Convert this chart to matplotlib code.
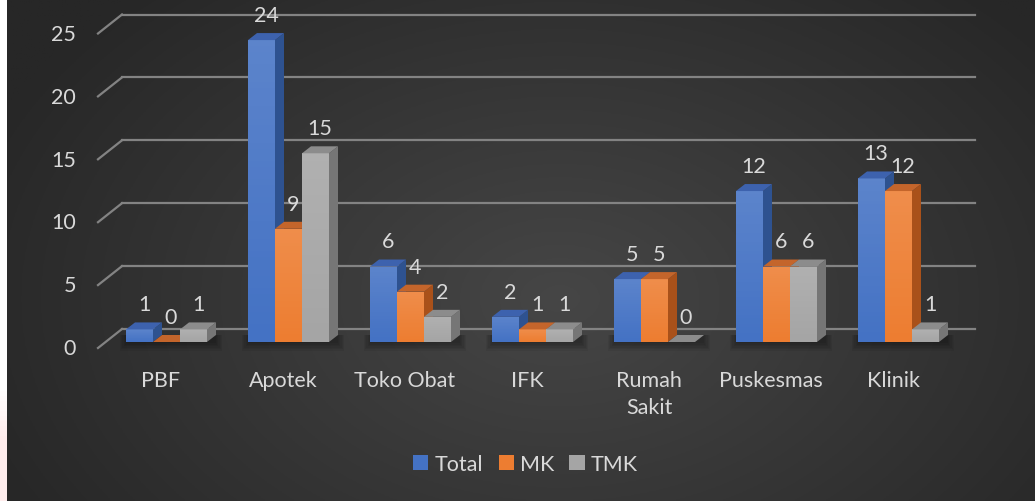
import numpy as np
import matplotlib.pyplot as plt
from matplotlib.patches import Polygon, Patch

# chart data
categories = ["PBF", "Apotek", "Toko Obat", "IFK", "Rumah\nSakit", "Puskesmas", "Klinik"]
series_names = ["Total", "MK", "TMK"]
total = [1, 24, 6, 2, 5, 12, 13]
mk = [0, 9, 4, 1, 5, 6, 12]
tmk = [1, 15, 2, 1, 0, 6, 1]
y_ticks = [0, 5, 10, 15, 20, 25]

front_col = ["#4472C4", "#ED7D31", "#A5A5A5"]
side_col = ["#2E5290", "#A9511A", "#767676"]
top_col = ["#3D62AE", "#C4652B", "#8C8C8C"]
txt_col = "#D9D9D9"
grid_col = "#838383"
fs = 15.5

plt.rcParams['font.family'] = ['Lato', 'DejaVu Sans']

W, H = 1035, 502
px_x, px_y = 122.0, 12.58      # pixels per category / per unit
x0, y0 = 166.5, 343.0          # pixel of (0, 0)
strip = 7                      # white strip on the left edge

fig = plt.figure(figsize=(W / 100, H / 100), dpi=100)
fig.patch.set_facecolor('white')
ax = fig.add_axes([0, 0, 1, 1])
xlim = (-x0 / px_x, (W - x0) / px_x)
ylim = (-(H - y0) / px_y, y0 / px_y)
ax.axis('off')

# left edge strip (white, faint pink at bottom)
sg = np.ones((100, 1, 3))
pink = np.clip((np.linspace(0, 1, 100) - 0.78) / 0.1, 0, 1)[:, None]
sg[..., 1] -= 0.07 * pink
sg[..., 2] -= 0.07 * pink
ax.imshow(sg, extent=[xlim[0], xlim[0] + strip / px_x, ylim[0], ylim[1]],
          aspect='auto', zorder=0, origin='upper')

# background radial gradient
xx, yy = np.meshgrid(np.linspace(strip, W, 400), np.linspace(0, H, 200))
r = np.sqrt(((xx - 560) / 620) ** 2 + ((yy - 300) / 420) ** 2)
r = np.clip(r, 0, 1)
c0, c1 = np.array([0x46, 0x46, 0x46]) / 255, np.array([0x27, 0x27, 0x27]) / 255
img = c0[None, None, :] * (1 - r[..., None]) + c1[None, None, :] * r[..., None]
ax.imshow(img, extent=[xlim[0] + strip / px_x, xlim[1], ylim[0], ylim[1]],
          aspect='auto', zorder=0, origin='upper')

w = 27 / px_x
dx, dy = 9 / px_x, 7 / px_y
wall_dy = 13 / px_y
wall_x0, wall_x1 = (122 - x0) / px_x, (975 - x0) / px_x
diag_dx, diag_dy = 24 / px_x, 19 / px_y

# back wall gridlines + left diagonals
for v in y_ticks:
    ax.plot([wall_x0, wall_x1], [v + wall_dy, v + wall_dy], color=grid_col, lw=1.6, zorder=1)
    ax.plot([wall_x0 - diag_dx, wall_x0], [v + wall_dy - diag_dy, v + wall_dy],
            color=grid_col, lw=1.6, zorder=1)
    ax.text(wall_x0 - diag_dx - 0.18, v - 0.5, str(v), ha='right', va='center',
            color=txt_col, fontsize=fs)

xs = np.arange(len(categories))

# floor shadow
for k in range(6):
    for i in xs:
        ax.add_patch(Polygon([(i - 1.5 * w - 0.01 * k, -0.1 - 0.12 * k),
                              (i + 1.5 * w + dx + 0.01 * k, -0.1 - 0.12 * k),
                              (i + 1.5 * w + dx + 0.01 * k, dy),
                              (i - 1.5 * w - 0.01 * k, dy)],
                             closed=True, color='black', alpha=0.06, lw=0, zorder=1.5))

grad = np.linspace(1, 0, 50)[:, None]
z = 2
for i in xs:
    for s, vals in enumerate([total, mk, tmk]):
        v = vals[i]
        xc = i + (s - 1) * w
        left, right = xc - w / 2, xc + w / 2
        bar = ax.bar(xc, v, width=w, color=front_col[s], zorder=z, lw=0)[0]
        if v > 0:
            shine = np.zeros((50, 1, 4))
            shine[..., :3] = 1
            shine[..., 3] = 0.13 * grad
            im = ax.imshow(shine, extent=[bar.get_x(), bar.get_x() + bar.get_width(), 0, bar.get_height()],
                           aspect='auto', zorder=z + 0.1, origin='upper')
            im.set_clip_path(bar)
        ax.add_patch(Polygon([(right, 0), (right + dx, dy), (right + dx, v + dy), (right, v)],
                             closed=True, color=side_col[s], lw=0, zorder=z + 0.2))
        ax.add_patch(Polygon([(left, v), (right, v), (right + dx, v + dy), (left + dx, v + dy)],
                             closed=True, color=top_col[s], lw=0, zorder=z + 0.2))
        ax.text(xc + dx / 2, v + 2.0, str(v), ha='center', va='center', color=txt_col,
                fontsize=fs, zorder=20)
        z += 1
ax.set_xlim(*xlim)
ax.set_ylim(*ylim)

for i, cat in zip(xs, categories):
    ax.text(i - 0.045, -2.2, cat, ha='center', va='top', color=txt_col, fontsize=fs,
            linespacing=1.45)

handles = [Patch(facecolor=c, edgecolor='none') for c in front_col]
fig.legend(handles, series_names, loc='center', bbox_to_anchor=(0.508, 0.074), ncol=3,
           frameon=False, fontsize=fs, labelcolor=txt_col, handlelength=0.7, handleheight=0.7,
           handletextpad=0.3, columnspacing=0.7)

fig.savefig("out.png", dpi=100)
